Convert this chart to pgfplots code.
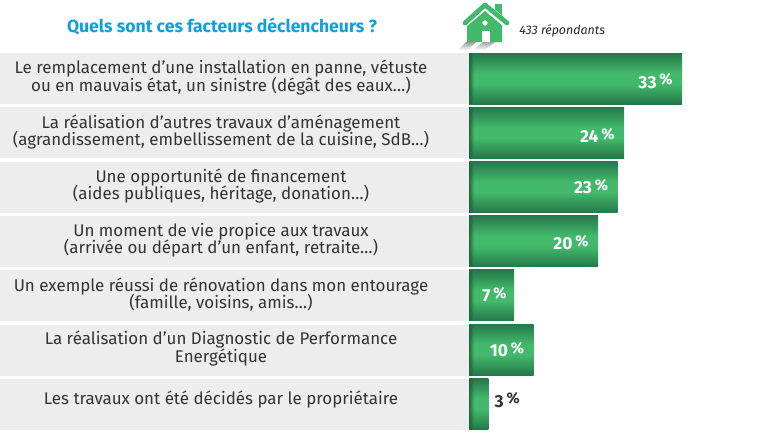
\documentclass[border=0pt]{standalone}
\usepackage{pgfplots}
\pgfplotsset{compat=1.18}
\usepackage{fontspec}
\setmainfont{Fira Sans}
\usetikzlibrary{fadings}
\definecolor{barDark}{HTML}{25784A}
\definecolor{barMid}{HTML}{43BA6B}
\definecolor{bandGrey}{HTML}{EDEDED}
\definecolor{titleBlue}{HTML}{0FA0DC}
\definecolor{txt}{HTML}{333333}
\pgfdeclareverticalshading{barshade}{100bp}{color(0bp)=(barDark); color(25bp)=(barDark); color(45bp)=(barMid); color(55bp)=(barMid); color(75bp)=(barDark); color(100bp)=(barDark)}
\newcommand{\pct}[1]{\bfseries #1\,\raisebox{2.5pt}{\fontsize{11.5}{11.5}\selectfont\%}}
\newcommand{\tickfont}{\fontsize{12.7}{12.9}\selectfont\setlength{\lineskiplimit}{-20pt}}
\pgfplotsset{
  greenbar/.style n args={3}{draw=none, shade, shading=barshade,
    nodes near coords={\pct{\pgfplotspointmeta}},
    every node near coord/.append style={anchor=#1, text=#2, xshift=#3, inner sep=0pt, font=\fontsize{13}{13}\selectfont}},
}
\begin{document}
\begin{tikzpicture}[x=0.75pt,y=-0.75pt]
\path[use as bounding box] (0,0) rectangle (777,439);
\foreach \c in {78.5,132.5,187,241.5,295.5,350,404.5}{
  \fill[bandGrey] (0,\c-25.5) rectangle (469,\c+25.5);
}
\begin{axis}[
  at={(351.75pt,-329.25pt)}, anchor=south west,
  scale only axis, width=231pt, height=329.25pt,
  xmin=0, xmax=47.68,
  ymin=-1.448, ymax=6.651, y dir=reverse,
  clip=false,
  hide x axis,
  axis y line*=left,
  y axis line style={draw=none},
  ytick={0,1,2,3,4,5,6},
  major tick length=0pt,
  yticklabels={
    {Le remplacement d’une installation en panne, vétuste\\ou en mauvais état, un sinistre (dégât des eaux…)},
    {La réalisation d’autres travaux d’aménagement\\(agrandissement, embellissement de la cuisine, SdB…)},
    {Une opportunité de financement\\(aides publiques, héritage, donation…)},
    {Un moment de vie propice aux travaux\\(arrivée ou départ d’un enfant, retraite…)},
    {Un exemple réussi de rénovation dans mon entourage\\(famille, voisins, amis…)},
    {La réalisation d’un Diagnostic de Performance\\Energétique},
    {Les travaux ont été décidés par le propriétaire\rule[-8pt]{0pt}{0pt}}
  },
  yticklabel style={anchor=center, align=center, xshift=-186pt, yshift=0.7pt,
    text=txt, font=\tickfont, inner sep=0pt},
  xbar, bar width=38.25pt, bar shift=0pt,
  point meta=explicit symbolic,
]
\addplot[greenbar={east}{white}{-7pt}, every node near coord/.append style={yshift=-1.9pt}] coordinates {(33,0)[33]};
\addplot[greenbar={east}{white}{-7pt}, every node near coord/.append style={yshift=-1.9pt}] coordinates {(24,1)[24]};
\addplot[greenbar={east}{white}{-7pt}, every node near coord/.append style={yshift=0pt}] coordinates {(23,2)[23]};
\addplot[greenbar={east}{white}{-7pt}, every node near coord/.append style={yshift=-1.1pt}] coordinates {(20,3)[20]};
\addplot[greenbar={east}{white}{-5.5pt}, every node near coord/.append style={yshift=0.4pt}] coordinates {(7,4)[7]};
\addplot[greenbar={east}{white}{-7pt}, every node near coord/.append style={yshift=0pt}] coordinates {(10,5)[10]};
\addplot[greenbar={west}{txt}{4.5pt}, every node near coord/.append style={yshift=2.6pt}] coordinates {(3,6)[3]};
\end{axis}
\foreach \c in {78.5,132.5,187,241.5,295.5,350,404.5}{
  \fill[barDark!85!black, path fading=east] (469,\c-25.5) rectangle (474,\c+25.5);
}
\node[anchor=center, text=titleBlue, font=\bfseries\fontsize{13.2}{13.2}\selectfont] at (222,26) {Quels sont ces facteurs déclencheurs ?};
\node[anchor=west, text=black!85, font=\itshape\fontsize{9.3}{9.3}\selectfont, inner sep=0pt] at (519,31) {433 répondants};
% house pictogram
\shade[top color=black!40, bottom color=white] (466,42) -- (476,42) -- (468,50) -- (458,50) -- cycle;
\shade[top color=black!35, bottom color=white] (483,42) -- (495,42) -- (485,50) -- (473,50) -- cycle;
\fill[barMid] (467,42) -- (467,24) -- (485,9) -- (502,24) -- (502,42) -- cycle;
\fill[barMid] (495,4) rectangle (502,16);
\draw[white, line width=5.5pt, line join=round] (460,27) -- (485,6) -- (510,27);
\draw[barMid, line width=3.6pt, line cap=round, line join=round] (465,23) -- (485,5) -- (507,23);
\fill[white] (485,23) circle (2.6);
\fill[white] (482,31) rectangle (490,42);
\end{tikzpicture}
\end{document}
